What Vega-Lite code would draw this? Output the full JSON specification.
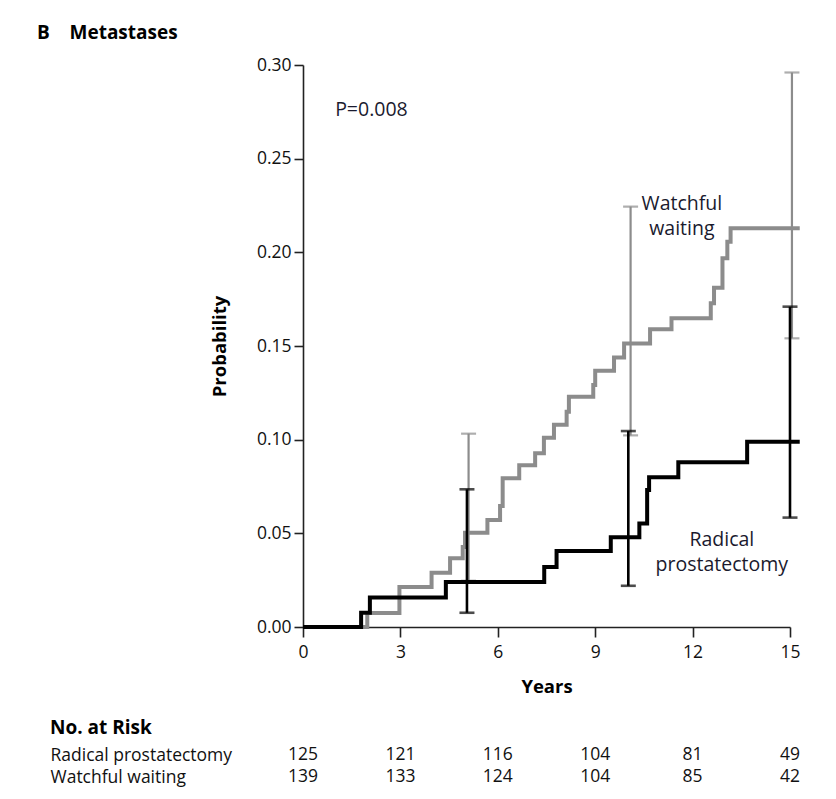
{
  "$schema": "https://vega.github.io/schema/vega-lite/v6.json",
  "background": "white",
  "padding": {"left": 37, "top": 24, "right": 10, "bottom": 5},
  "autosize": {"type": "pad"},
  "config": {"view": {"stroke": null}, "font": "Open Sans"},
  "title": {"text": "B\u00a0\u00a0\u00a0\u00a0Metastases", "anchor": "start", "fontSize": 19, "fontWeight": "bold", "color": "#000", "dx": -13, "offset": 13},
  "datasets": {
    "curves": [
      {"arm": "Radical prostatectomy", "t": 0, "p": 0},
      {"arm": "Radical prostatectomy", "t": 1.79, "p": 0.0076},
      {"arm": "Radical prostatectomy", "t": 2.06, "p": 0.0158},
      {"arm": "Radical prostatectomy", "t": 4.4, "p": 0.024},
      {"arm": "Radical prostatectomy", "t": 7.43, "p": 0.032},
      {"arm": "Radical prostatectomy", "t": 7.81, "p": 0.0406},
      {"arm": "Radical prostatectomy", "t": 9.48, "p": 0.0479},
      {"arm": "Radical prostatectomy", "t": 10.36, "p": 0.0553},
      {"arm": "Radical prostatectomy", "t": 10.6, "p": 0.0731},
      {"arm": "Radical prostatectomy", "t": 10.66, "p": 0.08},
      {"arm": "Radical prostatectomy", "t": 11.56, "p": 0.0879},
      {"arm": "Radical prostatectomy", "t": 13.68, "p": 0.0989},
      {"arm": "Radical prostatectomy", "t": 15.3, "p": 0.0989},
      {"arm": "Watchful waiting", "t": 0, "p": 0},
      {"arm": "Watchful waiting", "t": 1.98, "p": 0.0075},
      {"arm": "Watchful waiting", "t": 2.97, "p": 0.0213},
      {"arm": "Watchful waiting", "t": 3.96, "p": 0.029},
      {"arm": "Watchful waiting", "t": 4.53, "p": 0.0367},
      {"arm": "Watchful waiting", "t": 4.92, "p": 0.0427},
      {"arm": "Watchful waiting", "t": 4.99, "p": 0.0503},
      {"arm": "Watchful waiting", "t": 5.68, "p": 0.0571},
      {"arm": "Watchful waiting", "t": 6.07, "p": 0.0646},
      {"arm": "Watchful waiting", "t": 6.15, "p": 0.0794},
      {"arm": "Watchful waiting", "t": 6.66, "p": 0.0863},
      {"arm": "Watchful waiting", "t": 7.15, "p": 0.0927},
      {"arm": "Watchful waiting", "t": 7.42, "p": 0.101},
      {"arm": "Watchful waiting", "t": 7.73, "p": 0.108},
      {"arm": "Watchful waiting", "t": 8.12, "p": 0.1149},
      {"arm": "Watchful waiting", "t": 8.19, "p": 0.1229},
      {"arm": "Watchful waiting", "t": 8.94, "p": 0.1292},
      {"arm": "Watchful waiting", "t": 9.0, "p": 0.1368},
      {"arm": "Watchful waiting", "t": 9.58, "p": 0.1438},
      {"arm": "Watchful waiting", "t": 9.89, "p": 0.1514},
      {"arm": "Watchful waiting", "t": 10.69, "p": 0.159},
      {"arm": "Watchful waiting", "t": 11.35, "p": 0.1648},
      {"arm": "Watchful waiting", "t": 12.56, "p": 0.1728},
      {"arm": "Watchful waiting", "t": 12.66, "p": 0.1811},
      {"arm": "Watchful waiting", "t": 12.92, "p": 0.1968},
      {"arm": "Watchful waiting", "t": 13.07, "p": 0.2057},
      {"arm": "Watchful waiting", "t": 13.17, "p": 0.2128},
      {"arm": "Watchful waiting", "t": 15.3, "p": 0.2128}
    ],
    "bars": [
      {"arm": "Radical prostatectomy", "t": 5.05, "p": 0.0076, "p2": 0.0735},
      {"arm": "Radical prostatectomy", "t": 10.02, "p": 0.022, "p2": 0.1046},
      {"arm": "Radical prostatectomy", "t": 15.0, "p": 0.0584, "p2": 0.171},
      {"arm": "Watchful waiting", "t": 5.1, "p": 0.0247, "p2": 0.1032},
      {"arm": "Watchful waiting", "t": 10.09, "p": 0.1023, "p2": 0.2244},
      {"arm": "Watchful waiting", "t": 15.06, "p": 0.1541, "p2": 0.296}
    ],
    "notes": [
      {"kind": "p", "label": "P=0.008", "t": 0.99, "p": 0.276},
      {"kind": "arm", "label": "Watchful\nwaiting", "t": 11.67, "p": 0.2258},
      {"kind": "arm", "label": "Radical\nprostatectomy", "t": 12.9, "p": 0.0464}
    ],
    "risk": [
      {"arm": "Radical prostatectomy", "year": 0, "n": 125},
      {"arm": "Radical prostatectomy", "year": 3, "n": 121},
      {"arm": "Radical prostatectomy", "year": 6, "n": 116},
      {"arm": "Radical prostatectomy", "year": 9, "n": 104},
      {"arm": "Radical prostatectomy", "year": 12, "n": 81},
      {"arm": "Radical prostatectomy", "year": 15, "n": 49},
      {"arm": "Watchful waiting", "year": 0, "n": 139},
      {"arm": "Watchful waiting", "year": 3, "n": 133},
      {"arm": "Watchful waiting", "year": 6, "n": 124},
      {"arm": "Watchful waiting", "year": 9, "n": 104},
      {"arm": "Watchful waiting", "year": 12, "n": 85},
      {"arm": "Watchful waiting", "year": 15, "n": 42}
    ]
  },
  "vconcat": [
    {
      "width": 487,
      "height": 562,
      "encoding": {
        "x": {
          "field": "t", "type": "quantitative",
          "scale": {"domain": [0, 15], "nice": false, "zero": false},
          "axis": {"title": "Years", "values": [0, 3, 6, 9, 12, 15], "format": "d", "grid": false,
            "domainColor": "#222", "domainWidth": 1.6, "tickColor": "#222", "tickWidth": 1.6, "tickSize": 10,
            "labelPadding": 6, "labelFontSize": 17.5, "labelColor": "#111", "labelFlush": false,
            "titleFontSize": 18.5, "titleFontWeight": "bold", "titleColor": "#000", "titlePadding": 17}
        },
        "y": {
          "field": "p", "type": "quantitative",
          "scale": {"domain": [0, 0.3], "nice": false},
          "axis": {"title": "Probability", "values": [0, 0.05, 0.1, 0.15, 0.2, 0.25, 0.3], "format": ".2f", "grid": false,
            "domainColor": "#222", "domainWidth": 1.6, "tickColor": "#222", "tickWidth": 1.6, "tickSize": 9,
            "labelPadding": 3, "labelFontSize": 17.5, "labelColor": "#111", "labelFlush": false,
            "titleFontSize": 18.5, "titleFontWeight": "bold", "titleColor": "#000",
            "minExtent": 253, "titleX": -84, "titleY": 281, "titleAngle": 270, "titleBaseline": "middle", "titleAlign": "center"}
        }
      },
      "layer": [
        {
          "data": {"name": "curves"},
          "transform": [{"filter": "datum.arm === 'Watchful waiting'"}],
          "mark": {"type": "line", "interpolate": "step-after", "color": "#8c8c8c", "strokeWidth": 4, "strokeJoin": "miter", "strokeCap": "butt"}
        },
        {
          "data": {"name": "bars"},
          "transform": [{"filter": "datum.arm === 'Watchful waiting'"}],
          "mark": {"type": "errorbar", "ticks": true, "color": "#8c8c8c", "thickness": 2.2, "size": 15},
          "encoding": {"y2": {"field": "p2"}}
        },
        {
          "data": {"name": "curves"},
          "transform": [{"filter": "datum.arm === 'Radical prostatectomy'"}],
          "mark": {"type": "line", "interpolate": "step-after", "color": "#000", "strokeWidth": 4, "strokeJoin": "miter", "strokeCap": "butt"}
        },
        {
          "data": {"name": "bars"},
          "transform": [{"filter": "datum.arm === 'Radical prostatectomy'"}],
          "mark": {"type": "errorbar", "ticks": true, "color": "#000", "thickness": 2.6, "size": 15},
          "encoding": {"y2": {"field": "p2"}}
        },
        {
          "data": {"name": "notes"},
          "transform": [{"filter": "datum.kind === 'p'"}],
          "mark": {"type": "text", "align": "left", "baseline": "middle", "fontSize": 19.5, "color": "#1a1a2e"},
          "encoding": {"text": {"field": "label"}}
        },
        {
          "data": {"name": "notes"},
          "transform": [{"filter": "datum.kind === 'arm'"}],
          "mark": {"type": "text", "align": "center", "baseline": "middle", "fontSize": 19.5, "lineBreak": "\n", "lineHeight": 25, "color": "#1a1a2e"},
          "encoding": {"text": {"field": "label"}}
        }
      ]
    },
    {
      "width": 487,
      "height": 44,
      "title": {"text": "No. at Risk", "anchor": "start", "fontSize": 19, "fontWeight": "bold", "color": "#000", "offset": 6},
      "data": {"name": "risk"},
      "mark": {"type": "text", "fontSize": 17.5, "color": "#111", "baseline": "middle", "align": "center"},
      "encoding": {
        "x": {"field": "year", "type": "quantitative", "scale": {"domain": [0, 15], "nice": false}, "axis": null},
        "y": {"field": "arm", "type": "nominal", "sort": ["Radical prostatectomy", "Watchful waiting"],
          "axis": {"title": null, "domain": false, "ticks": false, "tickSize": 0, "labelAlign": "left", "labelPadding": 253,
            "labelFontSize": 17.5, "labelColor": "#111", "labelBaseline": "middle", "labelLimit": 0, "grid": false}},
        "text": {"field": "n", "type": "quantitative"}
      }
    }
  ],
  "spacing": 23
}
